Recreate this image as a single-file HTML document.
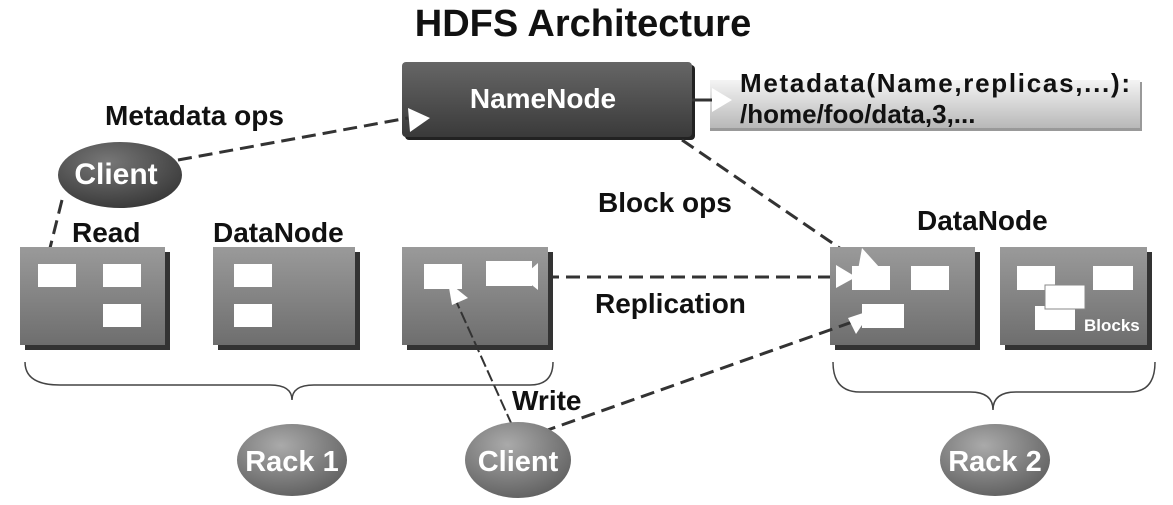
<!DOCTYPE html>
<html><head><meta charset="utf-8"><style>html,body{margin:0;padding:0;background:#fff}svg{display:block}text{font-family:"Liberation Sans",Arial,sans-serif;font-weight:bold}</style></head>
<body>
<svg width="1173" height="505" viewBox="0 0 1173 505" xmlns="http://www.w3.org/2000/svg">
<defs>
<linearGradient id="nn" x1="0" y1="0" x2="0" y2="1"><stop offset="0" stop-color="#666"/><stop offset="1" stop-color="#3a3a3a"/></linearGradient>
<linearGradient id="md" x1="0" y1="0" x2="0" y2="1"><stop offset="0" stop-color="#f4f4f4"/><stop offset="1" stop-color="#b8b8b8"/></linearGradient>
<linearGradient id="dn" x1="0" y1="0" x2="0" y2="1"><stop offset="0" stop-color="#9a9a9a"/><stop offset="1" stop-color="#6e6e6e"/></linearGradient>
<radialGradient id="el" cx="0.4" cy="0.3" r="0.8"><stop offset="0" stop-color="#aaa"/><stop offset="1" stop-color="#5a5a5a"/></radialGradient>
<radialGradient id="elD" cx="0.4" cy="0.3" r="0.8"><stop offset="0" stop-color="#777"/><stop offset="1" stop-color="#333"/></radialGradient>
</defs>
<text x="583" y="36" font-size="38" text-anchor="middle" fill="#111">HDFS  Architecture</text>

<!-- NameNode -->
<rect x="405" y="65" width="290" height="75" rx="4" fill="#222"/>
<rect x="402" y="62" width="290" height="75" rx="4" fill="url(#nn)"/>
<text x="543" y="108" font-size="28" text-anchor="middle" fill="#fff">NameNode</text>
<rect x="710" y="82" width="432" height="49" fill="#999"/>
<rect x="710" y="80" width="430" height="48" fill="url(#md)"/>
<text x="740" y="92" font-size="26" fill="#111" textLength="390">Metadata(Name,replicas,...):</text>
<text x="740" y="123" font-size="26" fill="#111">/home/foo/data,3,...</text>
<line x1="692" y1="100" x2="712" y2="100" stroke="#333" stroke-width="3"/>
<polygon points="712,88 732,100 712,112" fill="#fff"/>

<text x="105" y="125" font-size="28" fill="#111">Metadata ops</text>
<text x="598" y="212" font-size="28" fill="#111">Block ops</text>
<text x="595" y="313" font-size="28" fill="#111">Replication</text>
<text x="512" y="410" font-size="28" fill="#111">Write</text>
<text x="72" y="242" font-size="28" fill="#111">Read</text>
<text x="213" y="242" font-size="28" fill="#111">DataNode</text>
<text x="917" y="230" font-size="28" fill="#111">DataNode</text>

<!-- connectors behind -->
<g stroke="#333" stroke-width="3" stroke-dasharray="14,7" fill="none">
<line x1="178" y1="160" x2="408" y2="118"/>
<line x1="62" y1="200" x2="50" y2="248"/>
<line x1="682" y1="140" x2="860" y2="262"/>
<line x1="545" y1="277" x2="840" y2="277"/>
</g>

<!-- DataNode boxes -->
<g>
<rect x="25" y="252" width="145" height="98" fill="#333"/><rect x="20" y="247" width="145" height="98" fill="url(#dn)"/>
<rect x="218" y="252" width="142" height="98" fill="#333"/><rect x="213" y="247" width="142" height="98" fill="url(#dn)"/>
<rect x="407" y="252" width="146" height="98" fill="#333"/><rect x="402" y="247" width="146" height="98" fill="url(#dn)"/>
<rect x="835" y="252" width="145" height="98" fill="#333"/><rect x="830" y="247" width="145" height="98" fill="url(#dn)"/>
<rect x="1005" y="252" width="147" height="98" fill="#333"/><rect x="1000" y="247" width="147" height="98" fill="url(#dn)"/>
</g>
<g fill="#fff">
<rect x="38" y="264" width="38" height="23"/><rect x="103" y="264" width="38" height="23"/><rect x="103" y="304" width="38" height="23"/>
<rect x="234" y="264" width="38" height="23"/><rect x="234" y="304" width="38" height="23"/>
<rect x="424" y="264" width="38" height="25"/><rect x="486" y="261" width="46" height="25"/>
<rect x="852" y="266" width="38" height="24"/><rect x="911" y="266" width="38" height="24"/><rect x="862" y="304" width="42" height="24"/>
<rect x="1017" y="266" width="38" height="24"/><rect x="1093" y="266" width="40" height="24"/><rect x="1035" y="306" width="40" height="24"/>
<rect x="1045" y="285" width="40" height="24" stroke="#888" stroke-width="1"/>
</g>
<text x="1084" y="331" font-size="17" fill="#fff">Blocks</text>

<!-- connectors on top -->
<line x1="542" y1="432" x2="858" y2="320" stroke="#333" stroke-width="3" stroke-dasharray="14,7"/>
<line x1="512" y1="425" x2="452" y2="292" stroke="#333" stroke-width="2" stroke-dasharray="12,4"/>

<!-- arrowheads -->
<g fill="#fff">
<polygon points="408,108 430,118 410,132"/>
<polygon points="538,263 522,277 538,290"/>
<polygon points="836,265 856,277 836,288"/>
<polygon points="862,248 880,268 858,270"/>
<polygon points="448,282 468,298 452,305"/>
<polygon points="872,310 848,318 856,334"/>
</g>

<!-- braces -->
<g stroke="#444" stroke-width="1.5" fill="none">
<path d="M25,362 Q25,385 60,385 L270,385 Q292,385 292,400 Q292,385 314,385 L530,385 Q553,385 553,362"/>
<path d="M833,362 Q833,392 860,392 L970,392 Q993,392 993,410 Q993,392 1016,392 L1130,392 Q1155,392 1155,362"/>
</g>

<!-- ellipses -->
<ellipse cx="120" cy="175" rx="62" ry="33" fill="url(#elD)"/>
<text x="116" y="184" font-size="30" text-anchor="middle" fill="#fff">Client</text>
<ellipse cx="292" cy="460" rx="55" ry="36" fill="url(#el)"/>
<text x="292" y="471" font-size="29" text-anchor="middle" fill="#fff">Rack 1</text>
<ellipse cx="518" cy="460" rx="53" ry="38" fill="url(#el)"/>
<text x="518" y="471" font-size="29" text-anchor="middle" fill="#fff">Client</text>
<ellipse cx="995" cy="460" rx="55" ry="36" fill="url(#el)"/>
<text x="995" y="471" font-size="29" text-anchor="middle" fill="#fff">Rack 2</text>
</svg>
</body></html>
